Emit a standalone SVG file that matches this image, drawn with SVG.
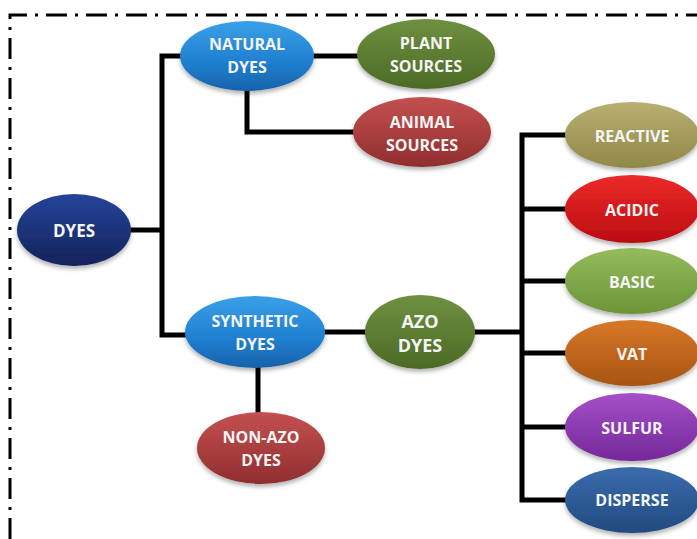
<svg xmlns="http://www.w3.org/2000/svg" width="697" height="539" viewBox="0 0 697 539">
<style>
.lbl{font-family:"Open Sans","Liberation Sans",sans-serif;font-weight:bold;font-size:16px;fill:#f4f4f4;text-anchor:middle;dominant-baseline:central}
.con{fill:none;stroke:#000;stroke-width:5;stroke-linejoin:miter;stroke-linecap:butt}
.border{fill:none;stroke:#000;stroke-width:3;stroke-dasharray:21 8 3 8}
</style>
<defs>
<filter id="sh" x="-20%" y="-20%" width="140%" height="150%"><feDropShadow dx="0" dy="3" stdDeviation="2" flood-color="#000" flood-opacity="0.3"/></filter>
<linearGradient id="gNavy" x1="0" y1="0" x2="0" y2="1"><stop offset="0" stop-color="#26449a"/><stop offset="1" stop-color="#12235a"/></linearGradient>
<linearGradient id="gBlue" x1="0" y1="0" x2="0" y2="1"><stop offset="0" stop-color="#3aa0e8"/><stop offset="0.6" stop-color="#1f7fd0"/><stop offset="1" stop-color="#1762aa"/></linearGradient>
<linearGradient id="gOlive" x1="0" y1="0" x2="0" y2="1"><stop offset="0" stop-color="#6f9040"/><stop offset="1" stop-color="#4d6a26"/></linearGradient>
<linearGradient id="gBrick" x1="0" y1="0" x2="0" y2="1"><stop offset="0" stop-color="#c45050"/><stop offset="1" stop-color="#902e2e"/></linearGradient>
<linearGradient id="gKhaki" x1="0" y1="0" x2="0" y2="1"><stop offset="0" stop-color="#b8b070"/><stop offset="1" stop-color="#8f8848"/></linearGradient>
<linearGradient id="gRed" x1="0" y1="0" x2="0" y2="1"><stop offset="0" stop-color="#ec2a2a"/><stop offset="1" stop-color="#bc0c10"/></linearGradient>
<linearGradient id="gLGreen" x1="0" y1="0" x2="0" y2="1"><stop offset="0" stop-color="#94bc5c"/><stop offset="1" stop-color="#6c9438"/></linearGradient>
<linearGradient id="gOrange" x1="0" y1="0" x2="0" y2="1"><stop offset="0" stop-color="#d8782a"/><stop offset="1" stop-color="#a85410"/></linearGradient>
<linearGradient id="gPurple" x1="0" y1="0" x2="0" y2="1"><stop offset="0" stop-color="#a450c8"/><stop offset="1" stop-color="#74289a"/></linearGradient>
<linearGradient id="gSteel" x1="0" y1="0" x2="0" y2="1"><stop offset="0" stop-color="#3a6cac"/><stop offset="1" stop-color="#224a80"/></linearGradient>
</defs>
<rect width="697" height="539" fill="#fff"/>
<path class="border" d="M10,539 V15 H700"/>
<g id="connectors">
<path class="con" d="M130,230 H162"/>
<path class="con" d="M181,56 H162 V335 H186"/>
<path class="con" d="M313,56 H358"/>
<path class="con" d="M247,90 V132 H354"/>
<path class="con" d="M324,332 H366"/>
<path class="con" d="M258,367 V413"/>
<path class="con" d="M474,332 H522"/>
<path class="con" d="M566,135 H522 V500 H566"/>
<path class="con" d="M522,209 H566"/>
<path class="con" d="M522,281 H566"/>
<path class="con" d="M522,353 H566"/>
<path class="con" d="M522,427 H566"/>
</g>
<g id="dyes"><ellipse cx="74" cy="230" rx="57" ry="36" fill="url(#gNavy)" filter="url(#sh)"/><text class="lbl" x="74" y="230" style="font-size:17px">DYES</text></g>
<g id="natural"><ellipse cx="247" cy="56" rx="67" ry="35" fill="url(#gBlue)" filter="url(#sh)"/><text class="lbl" x="247" y="44">NATURAL</text><text class="lbl" x="247" y="67">DYES</text></g>
<g id="plant"><ellipse cx="426" cy="54" rx="69" ry="35" fill="url(#gOlive)" filter="url(#sh)"/><text class="lbl" x="426" y="43">PLANT</text><text class="lbl" x="426" y="66">SOURCES</text></g>
<g id="animal"><ellipse cx="422" cy="132" rx="69" ry="35" fill="url(#gBrick)" filter="url(#sh)"/><text class="lbl" x="422" y="122">ANIMAL</text><text class="lbl" x="422" y="145">SOURCES</text></g>
<g id="synthetic"><ellipse cx="255" cy="332" rx="70" ry="36" fill="url(#gBlue)" filter="url(#sh)"/><text class="lbl" x="255" y="321">SYNTHETIC</text><text class="lbl" x="255" y="344">DYES</text></g>
<g id="azo"><ellipse cx="420" cy="332" rx="55" ry="37" fill="url(#gOlive)" filter="url(#sh)"/><text class="lbl" x="420" y="321" style="font-size:18px">AZO</text><text class="lbl" x="420" y="345" style="font-size:18px">DYES</text></g>
<g id="nonazo"><ellipse cx="261" cy="448" rx="64" ry="36" fill="url(#gBrick)" filter="url(#sh)"/><text class="lbl" x="261" y="437">NON-AZO</text><text class="lbl" x="261" y="460">DYES</text></g>
<g id="reactive"><ellipse cx="632" cy="135" rx="67" ry="33" fill="url(#gKhaki)" filter="url(#sh)"/><text class="lbl" x="632" y="136">REACTIVE</text></g>
<g id="acidic"><ellipse cx="632" cy="209" rx="67" ry="34" fill="url(#gRed)" filter="url(#sh)"/><text class="lbl" x="632" y="210">ACIDIC</text></g>
<g id="basic"><ellipse cx="632" cy="281" rx="67" ry="33" fill="url(#gLGreen)" filter="url(#sh)"/><text class="lbl" x="632" y="282">BASIC</text></g>
<g id="vat"><ellipse cx="632" cy="353" rx="67" ry="33" fill="url(#gOrange)" filter="url(#sh)"/><text class="lbl" x="632" y="354">VAT</text></g>
<g id="sulfur"><ellipse cx="632" cy="427" rx="67" ry="34" fill="url(#gPurple)" filter="url(#sh)"/><text class="lbl" x="632" y="428">SULFUR</text></g>
<g id="disperse"><ellipse cx="632" cy="500" rx="67" ry="33" fill="url(#gSteel)" filter="url(#sh)"/><text class="lbl" x="632" y="500">DISPERSE</text></g>
</svg>
